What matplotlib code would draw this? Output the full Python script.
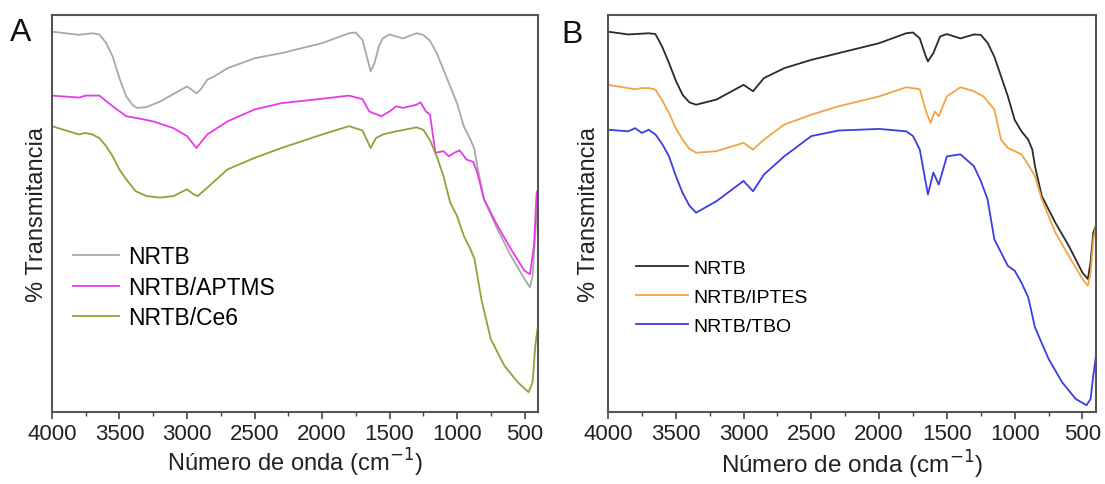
import matplotlib
matplotlib.use("Agg")
import matplotlib.pyplot as plt
from matplotlib.ticker import MultipleLocator

plt.rcParams['font.family'] = ['Liberation Sans', 'DejaVu Sans']

# ---------------- Panel A data ----------------
wn_a_nrtb = [4000, 3800, 3700, 3650, 3600, 3550, 3500, 3450, 3400, 3370, 3300, 3200, 3000, 2930, 2900, 2850, 2800,
             2700, 2500, 2300, 2000, 1800, 1750, 1700, 1660, 1640, 1610, 1580, 1550, 1500, 1400, 1300, 1250,
             1200, 1150, 1050, 1000, 950, 900, 870, 850, 800, 700, 600, 500, 460, 440, 420, 400]
t_a_nrtb = [95.8, 95.0, 95.4, 95.1, 93.0, 89.5, 84.0, 79.5, 77.2, 76.6, 76.8, 78.2, 82.0, 80.3, 81.2, 83.7, 84.5,
            86.6, 89.1, 90.4, 92.9, 95.4, 95.6, 93.7, 88.5, 85.8, 88.0, 92.0, 94.1, 95.1, 94.1, 95.4, 95.0,
            93.5, 90.4, 82.0, 77.8, 72.0, 68.6, 66.1, 61.9, 53.6, 46.0, 39.3, 33.5, 31.4, 34.3, 45.0, 55.2]

wn_a_aptms = [4000, 3800, 3750, 3650, 3550, 3450, 3350, 3250, 3100, 3000, 2930, 2900, 2850, 2700,
              2500, 2300, 2000, 1800, 1700, 1650, 1560, 1500, 1450, 1400, 1300, 1270, 1230, 1200,
              1160, 1100, 1060, 1020, 980, 930, 880, 850, 800, 700, 600, 500, 460, 430, 410, 400]
t_a_aptms = [79.7, 79.2, 79.7, 79.7, 77.0, 74.5, 73.9, 73.2, 71.5, 69.5, 66.5, 67.8, 69.9, 73.2,
             76.2, 77.8, 78.9, 79.7, 78.8, 75.7, 74.5, 75.7, 77.0, 76.6, 77.4, 78.0, 75.7, 74.9,
             65.3, 65.7, 64.4, 65.3, 65.9, 63.6, 63.0, 60.3, 53.6, 46.9, 41.0, 35.6, 34.7, 41.8, 55.2, 56.0]

wn_a_ce6 = [4000, 3800, 3750, 3700, 3650, 3600, 3550, 3500, 3450, 3380, 3300, 3200, 3100, 3000, 2950, 2920,
            2850, 2700, 2500, 2300, 2000, 1800, 1700, 1640, 1600, 1550, 1450, 1300, 1250, 1200, 1150,
            1100, 1050, 1000, 950, 900, 870, 820, 750, 650, 550, 470, 440, 420, 400]
t_a_ce6 = [72.0, 69.9, 70.3, 69.9, 69.0, 67.0, 64.4, 61.0, 58.6, 55.6, 54.4, 54.0, 54.4, 56.1, 54.8, 54.4,
           56.5, 61.1, 64.0, 66.5, 69.9, 72.0, 70.9, 66.5, 69.0, 69.9, 70.7, 71.7, 71.1, 68.5, 64.4,
           59.4, 52.7, 49.4, 44.4, 41.0, 38.5, 28.5, 18.4, 11.7, 7.5, 5.0, 7.5, 16.7, 21.8]

# ---------------- Panel B data ----------------
wn_b_nrtb = [4000, 3850, 3700, 3650, 3600, 3550, 3500, 3450, 3400, 3350, 3200, 3000, 2930, 2850, 2700, 2500, 2000,
             1800, 1750, 1700, 1660, 1640, 1600, 1550, 1500, 1400, 1300, 1250, 1200, 1150, 1050, 1000, 950,
             900, 870, 850, 800, 700, 600, 500, 460, 440, 420, 400]
t_b_nrtb = [95.8, 95.1, 95.4, 95.2, 92.0, 87.9, 83.5, 79.9, 78.0, 77.4, 78.7, 82.4, 80.8, 84.1, 86.6, 88.7, 92.9,
            95.4, 95.6, 94.1, 90.0, 88.3, 90.4, 94.6, 95.2, 94.1, 95.1, 95.0, 93.0, 89.5, 79.5, 73.6, 70.7,
            68.6, 66.1, 61.9, 54.4, 47.7, 41.8, 35.1, 33.5, 37.7, 45.2, 46.9]

wn_b_iptes = [4000, 3800, 3750, 3700, 3650, 3600, 3550, 3500, 3450, 3400, 3350, 3200, 3000, 2930, 2850, 2700, 2500,
              2300, 2000, 1800, 1700, 1650, 1620, 1590, 1560, 1500, 1400, 1300, 1230, 1150, 1100,
              1050, 1000, 950, 900, 850, 800, 700, 600, 500, 460, 440, 420, 400]
t_b_iptes = [82.4, 81.3, 81.6, 81.6, 81.2, 78.5, 75.3, 71.5, 68.6, 66.3, 65.3, 65.7, 67.8, 66.1, 68.6, 72.4, 74.9,
             77.0, 79.5, 81.8, 81.3, 75.3, 72.8, 75.7, 74.5, 79.5, 81.8, 80.8, 79.5, 76.2, 68.6,
             66.5, 65.7, 64.9, 62.3, 59.4, 53.6, 45.2, 39.3, 33.5, 31.8, 35.1, 43.5, 46.9]

wn_b_tbo = [4000, 3850, 3800, 3750, 3700, 3650, 3600, 3550, 3500, 3450, 3400, 3350, 3200, 3000, 2930, 2850, 2700,
            2500, 2300, 2000, 1800, 1750, 1700, 1640, 1600, 1560, 1500, 1400, 1300, 1250, 1200, 1150,
            1050, 1000, 950, 900, 850, 750, 650, 550, 470, 440, 420, 400]
t_b_tbo = [71.1, 70.7, 71.5, 70.3, 71.1, 69.9, 67.5, 64.4, 59.5, 55.2, 52.0, 50.2, 53.1, 58.2, 55.6, 59.8, 64.4,
           69.5, 70.9, 71.3, 70.7, 69.5, 66.1, 54.8, 60.3, 57.3, 64.4, 64.9, 61.9, 58.2, 53.6, 43.5,
           36.8, 35.6, 32.6, 28.9, 21.3, 13.4, 7.5, 3.3, 1.7, 3.3, 9.2, 14.2]

labels_a = ["NRTB", "NRTB/APTMS", "NRTB/Ce6"]
labels_b = ["NRTB", "NRTB/IPTES", "NRTB/TBO"]
colors_a = ["#a8a8a8", "#e83ae8", "#9c9c38"]
colors_b = ["#2a2a2a", "#f2a445", "#3c3ce0"]

W, H = 1105, 485
fig = plt.figure(figsize=(W / 100, H / 100), dpi=100)
axA = fig.add_axes([52 / W, (H - 413) / H, (538 - 52) / W, (413 - 16) / H])
axB = fig.add_axes([608 / W, (H - 413) / H, (1096 - 608) / W, (413 - 16) / H])

seriesA = [(wn_a_nrtb, t_a_nrtb), (wn_a_aptms, t_a_aptms), (wn_a_ce6, t_a_ce6)]
seriesB = [(wn_b_nrtb, t_b_nrtb), (wn_b_iptes, t_b_iptes), (wn_b_tbo, t_b_tbo)]

for ax, series, labels, colors in [(axA, seriesA, labels_a, colors_a),
                                   (axB, seriesB, labels_b, colors_b)]:
    for (x, y), lab, c in zip(series, labels, colors):
        ax.plot(x, y, color=c, lw=1.3, label=lab)
    ax.set_xlim(4000, 400)
    ax.set_ylim(0, 100)
    ax.set_yticks([])
    ax.xaxis.set_major_locator(MultipleLocator(500))
    ax.xaxis.set_minor_locator(MultipleLocator(250))
    ax.tick_params(axis='x', which='major', direction='out', length=5, width=1.2,
                   colors='#444444', labelsize=16, labelcolor='#222222', pad=3)
    ax.tick_params(axis='x', which='minor', direction='out', length=3, width=1.0, colors='#444444')
    for s in ax.spines.values():
        s.set_color('#555555')
        s.set_linewidth(1.5)

axA.set_ylabel("% Transmitancia", fontsize=17, color='#222222', labelpad=3)
axB.set_ylabel("% Transmitancia", fontsize=17, color='#222222', labelpad=6)
axA.set_xlabel("Número de onda (cm$^{-1}$)", fontsize=17, color='#222222', labelpad=1)
axB.set_xlabel("Número de onda (cm$^{-1}$)", fontsize=17.5, color='#222222', labelpad=3)

axA.legend(loc='upper left', bbox_to_anchor=(0.043, 0.42), frameon=False, fontsize=16.5,
           handlelength=2.0, handletextpad=0.4, labelspacing=0.33, borderaxespad=0, borderpad=0)
axB.legend(loc='upper left', bbox_to_anchor=(0.057, 0.385), frameon=False, fontsize=14,
           handlelength=2.7, handletextpad=0.25, labelspacing=0.58, borderaxespad=0, borderpad=0)

fig.text(21 / W, 1 - 33 / H, "A", fontsize=23, ha='center', va='center', color='#111111')
fig.text(572 / W, 1 - 35 / H, "B", fontsize=23, ha='center', va='center', color='#111111')

fig.savefig("out.png", dpi=100)
